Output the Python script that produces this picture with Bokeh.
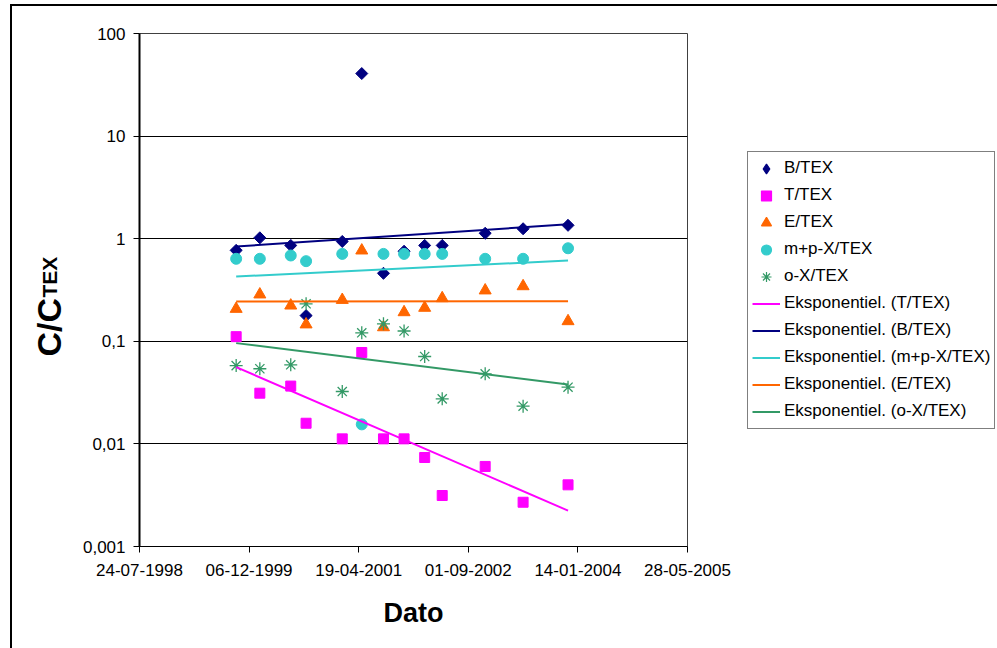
import numpy as np
import pandas as pd
from bokeh.plotting import figure
from bokeh.layouts import row
from bokeh.models import (Range1d, FixedTicker, DatetimeTickFormatter, Legend,
                          LegendItem, Label)
from bokeh.embed import file_html
from bokeh.resources import INLINE

# ---------------- data ----------------
dates = ["1999-10-08", "2000-01-24", "2000-06-13", "2000-08-22", "2001-02-03",
         "2001-05-03", "2001-08-10", "2001-11-12", "2002-02-14", "2002-05-05",
         "2002-11-17", "2003-05-09", "2003-11-30"]
b_tex = [0.77, 1.02, 0.86, 0.178, 0.94, 40.7, 0.46, 0.755, 0.86, 0.86, 1.13, 1.25, 1.35]
t_tex = [0.111, 0.0312, 0.0366, 0.0159, 0.0112, 0.0778, 0.0112, 0.0112, 0.00737,
         0.00314, 0.00603, 0.0027, 0.00399]
e_tex = [0.207, 0.286, 0.223, 0.146, 0.253, 0.767, 0.137, 0.192, 0.212, 0.263,
         0.313, 0.344, 0.157]
mp_tex = [0.637, 0.637, 0.686, 0.604, 0.711, 0.0155, 0.711, 0.711, 0.711, 0.711,
          0.637, 0.637, 0.807]
o_tex = [0.058, 0.054, 0.059, 0.232, 0.0324, 0.121, 0.148, 0.126, 0.0711, 0.0275,
         0.0482, 0.0233, 0.0357]

# exponential trend lines (end values)
trend_dates = ["1999-10-08", "2003-11-30"]
trend_t = [0.056, 0.00224]
trend_b = [0.84, 1.38]
trend_mp = [0.428, 0.613]
trend_e = [0.244, 0.246]
trend_o = [0.096, 0.0379]

x_tick_dates = ["1998-07-24", "1999-12-06", "2001-04-19", "2002-09-01",
                "2004-01-14", "2005-05-28"]
y_ticks = [0.001, 0.01, 0.1, 1, 10, 100]
y_tick_labels = ["0,001", "0,01", "0,1", "1", "10", "100"]

series_names = ["B/TEX", "T/TEX", "E/TEX", "m+p-X/TEX", "o-X/TEX"]
series_colors = ["#000080", "#FF00FF", "#FF6600", "#33CCCC", "#339966"]
trend_names = ["Eksponentiel. (T/TEX)", "Eksponentiel. (B/TEX)",
               "Eksponentiel. (m+p-X/TEX)", "Eksponentiel. (E/TEX)",
               "Eksponentiel. (o-X/TEX)"]
trend_colors = ["#FF00FF", "#000080", "#33CCCC", "#FF6600", "#339966"]

x_title = "Dato"
y_title_main = "C/C"
y_title_sub = "TEX"

# ---------------- layout (page pixels) ----------------
FONT = "Liberation Sans"
OX, OY = 12, 6                       # chart-area frame corner on the page
PL, PR, PT, PB = 139, 687, 33, 546   # plot area on the page
LGX = 747                            # legend box left edge on the page
H = 648 - OY
W = LGX - OX
L, T = PL - OX, PT - OY
R, B = LGX - PR, 648 - PB
FW, FH = PR - PL, PB - PT
W2 = 997 - LGX

xd_dates = pd.to_datetime(dates)
xt_dates = pd.to_datetime(trend_dates)
tick_ms = [pd.Timestamp(d).value / 1e6 for d in x_tick_dates]
X0, X1 = tick_ms[0], tick_ms[-1]


def xd(px):
    return X0 + (px - PL) / FW * (X1 - X0)


def yd(py):
    return 10 ** (2 - (py - PT) / FH * 5)


p = figure(width=W, height=H, x_axis_type="datetime", y_axis_type="log",
           x_range=Range1d(X0, X1), y_range=Range1d(0.001, 100),
           output_backend="svg", toolbar_location=None,
           min_border_left=L, min_border_right=R, min_border_top=T,
           min_border_bottom=B)
p.background_fill_color = "white"
p.border_fill_color = "white"
p.outline_line_color = "#404040"
p.outline_line_width = 1

# axes
p.xaxis.ticker = FixedTicker(ticks=tick_ms, minor_ticks=[])
fmt = "%d-%m-%Y"
p.xaxis.formatter = DatetimeTickFormatter(
    microseconds=fmt, milliseconds=fmt, seconds=fmt, minsec=fmt, minutes=fmt,
    hourmin=fmt, hours=fmt, days=fmt, months=fmt, years=fmt)
p.yaxis.ticker = FixedTicker(ticks=y_ticks, minor_ticks=[])
p.yaxis.major_label_overrides = {float(k): v for k, v in zip(y_ticks, y_tick_labels)}

for ax in (p.xaxis, p.yaxis):
    ax.axis_line_color = "black"
    ax.major_tick_line_color = "black"
    ax.major_tick_in = 0
    ax.major_tick_out = 6
    ax.minor_tick_in = 0
    ax.minor_tick_out = 0
    ax.major_label_text_font = FONT
    ax.major_label_text_font_size = "17px"
    ax.major_label_text_color = "black"
p.yaxis.axis_line_width = 2
p.xaxis.axis_line_width = 1
p.xaxis.major_label_standoff = 11
p.yaxis.major_label_standoff = 8

p.xaxis.axis_label = x_title
p.xaxis.axis_label_text_font = FONT
p.xaxis.axis_label_text_font_size = "27px"
p.xaxis.axis_label_text_font_style = "bold"
p.xaxis.axis_label_text_color = "black"
p.xaxis.axis_label_standoff = 19

p.xgrid.grid_line_color = None
p.ygrid.grid_line_color = "black"
p.ygrid.grid_line_width = 1
p.ygrid.minor_grid_line_color = None

# series
p.scatter(xd_dates, b_tex, marker="square", angle=np.pi / 4, size=8.5,
          fill_color=series_colors[0], line_color=series_colors[0])
p.scatter(xd_dates, t_tex, marker="square", size=10,
          fill_color=series_colors[1], line_color=series_colors[1])
p.scatter(xd_dates, e_tex, marker="triangle", size=12,
          fill_color=series_colors[2], line_color=series_colors[2])
p.scatter(xd_dates, mp_tex, marker="circle", size=11,
          fill_color=series_colors[3], line_color=series_colors[3])
p.scatter(xd_dates, o_tex, marker="asterisk", size=13,
          line_color=series_colors[4], line_width=1.3)

for ys, c in zip([trend_t, trend_b, trend_mp, trend_e, trend_o], trend_colors):
    p.line(xt_dates, ys, line_color=c, line_width=2)

# y title with subscript
p.add_layout(Label(x=xd(48), y=yd(356), text=y_title_main, text_font=FONT,
                   text_font_size="34px", text_font_style="bold", angle=np.pi / 2,
                   text_align="left", text_baseline="alphabetic",
                   text_color="black"), "left")
p.add_layout(Label(x=xd(49), y=yd(356 - 59), text=y_title_sub, text_font=FONT,
                   text_font_size="21px", text_font_style="bold", angle=np.pi / 2,
                   text_align="left", text_baseline="alphabetic",
                   text_color="black"), "left")

# ---------------- legend panel (keys only) ----------------
pl = figure(width=W2, height=H, x_range=Range1d(0, 1), y_range=Range1d(0, 1),
            output_backend="svg", toolbar_location=None,
            x_axis_location=None, y_axis_location=None,
            min_border_left=0, min_border_right=0, min_border_top=0,
            min_border_bottom=0)
pl.outline_line_color = None
pl.background_fill_color = "white"
pl.border_fill_color = "white"
pl.xgrid.visible = False
pl.ygrid.visible = False

key_markers = ["diamond", "square", "triangle", "circle", "asterisk"]
key_sizes = [14, 10, 12, 11, 13]
keys = []
for m, s, c in zip(key_markers, key_sizes, series_colors):
    keys.append(pl.scatter([np.nan], [np.nan], marker=m, size=s,
                           fill_color=c, line_color=c, line_width=1.2))
lkeys = [pl.line([np.nan, np.nan], [np.nan, np.nan], line_color=c, line_width=2)
         for c in trend_colors]

items = [LegendItem(label=n, renderers=[r]) for n, r in zip(series_names, keys)]
items += [LegendItem(label=n, renderers=[r]) for n, r in zip(trend_names, lkeys)]

legend = Legend(items=items, location="left")
legend.border_line_color = "black"
legend.border_line_width = 1
legend.background_fill_color = "white"
legend.background_fill_alpha = 1
legend.label_text_font = FONT
legend.label_text_font_size = "17px"
legend.label_text_color = "black"
legend.glyph_width = 28
legend.glyph_height = 25
legend.label_height = 25
legend.spacing = 2
legend.padding = 4
legend.label_standoff = 4
legend.margin = 0
pl.add_layout(legend)

layout = row(p, pl, spacing=0)
layout.styles = {"border-left": "2px solid black", "border-top": "2px solid black",
                 "margin-left": f"{OX - 2}px", "margin-top": f"{OY - 2}px"}

open("out.html", "w").write(file_html(layout, INLINE))
